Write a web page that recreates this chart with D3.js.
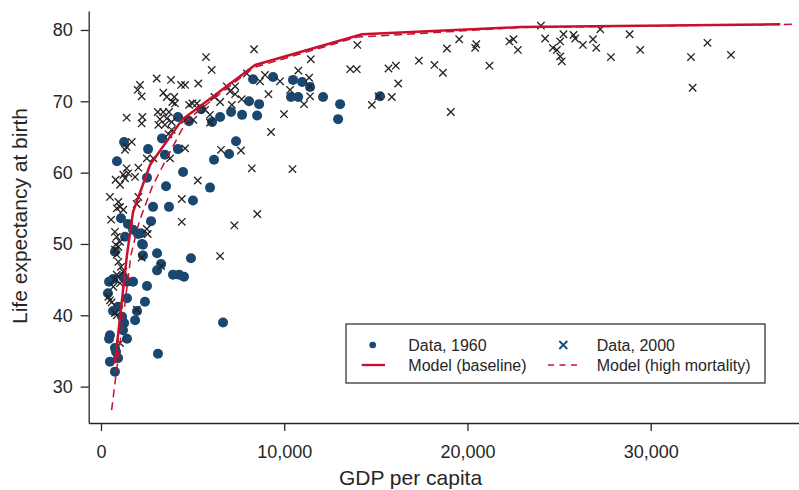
<!DOCTYPE html>
<html>
<head>
<meta charset="utf-8">
<script src="https://cdn.jsdelivr.net/npm/d3@7"></script>
<style>
  body { margin: 0; background: #fff; }
  svg { font-family: "Liberation Sans", Arial, Helvetica, sans-serif; }
</style>
</head>
<body>
<div id="chart"></div>
<script>
// 1960 observations (dots)
const gdp1960 = [10480, 10980, 11410, 10370, 10760, 12120, 13050, 12940, 15230, 9390,
  8300, 8080, 8630, 7100, 7700, 8520, 6500, 6060, 7370, 6990,
  6170, 5950, 5020, 4480, 3550, 3710, 3330, 3490, 4200, 4800,
  4200, 2570, 2510, 2840, 2730, 2180, 2240, 1260, 870, 1090,
  1310, 1470, 1750, 2020, 2290, 3060, 760, 2290, 3280, 3060,
  4910, 3930, 4260, 4530, 2510, 440, 660, 1200, 1420, 1750,
  380, 1420, 2400, 660, 930, 1150, 1970, 1860, 1260, 1200,
  490, 440, 1420, 760, 820, 930, 490, 3110, 760, 6660, 5460];
const life1960 = [73.0, 72.7, 72.0, 70.6, 70.6, 70.6, 69.6, 67.5, 70.7, 73.4,
  73.1, 70.0, 69.6, 68.5, 68.1, 68.0, 67.8, 67.1, 64.4, 62.6,
  61.8, 57.9, 56.1, 60.1, 58.1, 55.2, 64.8, 62.5, 67.8, 67.2,
  63.3, 63.3, 59.3, 55.2, 53.2, 51.5, 50.0, 64.3, 61.6, 53.6,
  51.0, 52.8, 52.0, 51.4, 49.9, 48.7, 48.9, 48.4, 47.2, 46.3,
  48.0, 45.7, 45.7, 45.4, 44.1, 44.7, 45.1, 45.4, 44.7, 44.7,
  43.1, 42.4, 41.9, 40.6, 41.2, 39.8, 40.6, 39.3, 38.9, 37.9,
  37.2, 36.7, 36.7, 35.4, 34.9, 34.0, 33.5, 34.6, 32.1, 39.0, 68.9];

// 2000 observations (crosses)
const gdp2000 = [24010, 24240, 25240, 25790, 25880, 27250, 26850, 26300, 27030, 24660,
  25060, 24880, 25060, 25150, 28850, 27830, 29430, 32200, 33100, 34380,
  32290, 22510, 22290, 22750, 21200, 20480, 20420, 19550, 18880, 17350,
  18200, 18660, 19090, 16090, 15690, 16220, 15870, 14780, 15140, 13990,
  13960, 13600, 11450, 10770, 11360, 11410, 10320, 11410, 11080, 9990,
  9770, 10450, 6040, 5310, 7960, 8950, 8680, 9140, 9280, 6860,
  7320, 7040, 7320, 7680, 7140, 6190, 6500, 5680, 5950, 4990,
  4810, 5230, 4590, 5040, 5950, 6550, 7640, 4590, 8230, 4590,
  8350, 5730, 8530, 7280, 6500, 5280, 4410, 4410, 3040, 3820,
  4370, 2130, 2000, 2220, 3400, 3590, 4000, 3890, 4040, 1400,
  2260, 2220, 3100, 3400, 3710, 3590, 3220, 3130, 3490, 3860,
  3860, 3680, 1680, 1400, 1310, 2500, 2860, 3770, 1400, 1490,
  1220, 1860, 2040, 800, 1040, 1310, 490, 950, 1040, 1220,
  860, 2040, 1950, 550, 2500, 2550, 760, 860, 1040, 800,
  950, 760, 860, 950, 1090, 1220, 860, 760, 1040, 670,
  400, 490, 580, 760, 860, 1950, 2220, 3280, 1040];
const life2000 = [80.6, 78.8, 79.4, 79.3, 78.8, 80.1, 78.7, 77.9, 77.5, 77.5,
  78.4, 77.2, 76.3, 75.6, 79.4, 76.2, 77.2, 76.2, 78.2, 76.5,
  71.9, 78.7, 78.4, 77.2, 75.0, 78.0, 77.5, 78.7, 77.4, 75.7,
  75.1, 74.0, 68.5, 75.0, 74.6, 72.5, 70.6, 69.5, 70.7, 77.9,
  74.5, 74.5, 75.9, 74.3, 73.3, 72.1, 71.6, 70.7, 69.6, 68.2,
  72.8, 60.5, 74.4, 72.5, 73.9, 73.7, 72.8, 71.0, 65.7, 72.1,
  72.1, 71.4, 71.0, 70.3, 69.5, 70.6, 69.9, 68.8, 68.1, 69.7,
  69.5, 69.7, 67.4, 67.4, 67.0, 63.2, 63.1, 63.4, 60.6, 72.3,
  77.3, 76.2, 54.2, 52.6, 48.3, 58.9, 56.3, 53.1, 73.2, 73.0,
  72.3, 72.3, 71.6, 70.7, 71.2, 70.6, 70.6, 69.9, 69.7, 67.7,
  67.8, 66.9, 68.5, 68.5, 68.5, 67.6, 67.5, 66.7, 66.7, 67.1,
  66.0, 65.4, 64.3, 63.6, 63.2, 62.0, 62.0, 62.0, 60.6, 59.9,
  59.7, 59.4, 60.7, 59.0, 58.3, 59.2, 56.6, 55.9, 55.2, 54.8,
  55.0, 56.6, 55.6, 53.4, 52.1, 51.4, 51.7, 51.0, 50.3, 49.9,
  49.6, 49.2, 48.5, 47.5, 46.8, 46.1, 45.7, 45.0, 44.5, 44.0,
  42.6, 42.1, 41.8, 40.3, 40.0, 40.8, 48.1, 46.9, 36.1];

// model curves
const baseGdp = [760, 1420, 1750, 2680, 4420, 8410, 14250, 22880, 37070];
const baseLife = [33.3, 48.5, 54.5, 61.1, 67.4, 75.1, 79.4, 80.4, 80.8];
const highGdp = [580, 1640, 2080, 2790, 3600, 4700, 8300, 13980, 22880, 37890];
const highLife = [26.7, 48.5, 53.1, 58.0, 62.1, 67.4, 74.7, 79.0, 80.35, 80.8];

const xTicks = [0, 10000, 20000, 30000];
const yTicks = [30, 40, 50, 60, 70, 80];

const width = 799;
const height = 490;
const red = "#c8102e";
const navy = "#1a476f";
const ink = "#262626";

const svg = d3
  .select("#chart")
  .append("svg")
  .attr("width", width)
  .attr("height", height);

const xScale = d3.scaleLinear().domain([-671, 38094]).range([88.7, 799]);
const yScale = d3.scaleLinear().domain([24.9, 82.66]).range([423, 11]);

const xAxis = d3
  .axisBottom(xScale)
  .tickValues(xTicks)
  .tickFormat(d3.format(","))
  .tickSizeInner(8)
  .tickSizeOuter(0)
  .tickPadding(14);
const yAxis = d3
  .axisLeft(yScale)
  .tickValues(yTicks)
  .tickSizeInner(8)
  .tickSizeOuter(0)
  .tickPadding(8);

const gx = svg.append("g").attr("transform", "translate(0,423)").call(xAxis);
const gy = svg.append("g").attr("transform", "translate(88.7,0)").call(yAxis);

[gx, gy].forEach((g) => {
  g.selectAll("path, line").attr("stroke", ink).attr("stroke-width", 1.3);
  g.selectAll("text").attr("fill", ink).style("font-size", "18px");
});

svg
  .append("text")
  .attr("x", 410.5)
  .attr("y", 485)
  .attr("text-anchor", "middle")
  .attr("fill", ink)
  .style("font-size", "21px")
  .text("GDP per capita");

svg
  .append("text")
  .attr("transform", "translate(27,216) rotate(-90)")
  .attr("text-anchor", "middle")
  .attr("fill", ink)
  .style("font-size", "21px")
  .text("Life expectancy at birth");

// dots, 1960
svg
  .append("g")
  .selectAll("circle")
  .data(gdp1960.map((g, i) => [g, life1960[i]]))
  .enter()
  .append("circle")
  .attr("cx", (d) => xScale(d[0]))
  .attr("cy", (d) => yScale(d[1]))
  .attr("r", 5)
  .attr("fill", navy);

// crosses, 2000
const cross = "M-3.7,-3.7L3.7,3.7M-3.7,3.7L3.7,-3.7";
svg
  .append("g")
  .selectAll("path")
  .data(gdp2000.map((g, i) => [g, life2000[i]]))
  .enter()
  .append("path")
  .attr("d", cross)
  .attr("transform", (d) => `translate(${xScale(d[0])},${yScale(d[1])})`)
  .attr("fill", "none")
  .attr("stroke", "#222")
  .attr("stroke-width", 1.3);

const line = d3
  .line()
  .x((d) => xScale(d[0]))
  .y((d) => yScale(d[1]));

svg
  .append("path")
  .datum(highGdp.map((g, i) => [g, highLife[i]]))
  .attr("d", line)
  .attr("fill", "none")
  .attr("stroke", red)
  .attr("stroke-width", 1.5)
  .attr("stroke-dasharray", "8,5");

svg
  .append("path")
  .datum(baseGdp.map((g, i) => [g, baseLife[i]]))
  .attr("d", line)
  .attr("fill", "none")
  .attr("stroke", red)
  .attr("stroke-width", 2.5)
  .attr("stroke-linejoin", "round");

// legend
const legend = svg.append("g");
legend
  .append("rect")
  .attr("x", 346)
  .attr("y", 324)
  .attr("width", 419)
  .attr("height", 59)
  .attr("fill", "#fff")
  .attr("stroke", ink)
  .attr("stroke-width", 1.2);

legend.append("circle").attr("cx", 372.7).attr("cy", 345).attr("r", 3.3).attr("fill", navy);
legend
  .append("path")
  .attr("d", "M-4,-4L4,4M-4,4L4,-4")
  .attr("transform", "translate(563.3,345)")
  .attr("stroke", navy)
  .attr("stroke-width", 1.8);
legend
  .append("line")
  .attr("x1", 361.7)
  .attr("x2", 385)
  .attr("y1", 365)
  .attr("y2", 365)
  .attr("stroke", red)
  .attr("stroke-width", 2.3);
legend
  .append("line")
  .attr("x1", 548)
  .attr("x2", 581)
  .attr("y1", 365)
  .attr("y2", 365)
  .attr("stroke", red)
  .attr("stroke-width", 1.3)
  .attr("stroke-dasharray", "6,5.5");

const legendText = [
  ["Data, 1960", 408.3, 350.5],
  ["Data, 2000", 596.7, 350.5],
  ["Model (baseline)", 408.3, 370.5],
  ["Model (high mortality)", 596.7, 370.5],
];
legend
  .selectAll("text")
  .data(legendText)
  .enter()
  .append("text")
  .attr("x", (d) => d[1])
  .attr("y", (d) => d[2])
  .attr("fill", ink)
  .style("font-size", "16px")
  .text((d) => d[0]);
</script>
</body>
</html>
